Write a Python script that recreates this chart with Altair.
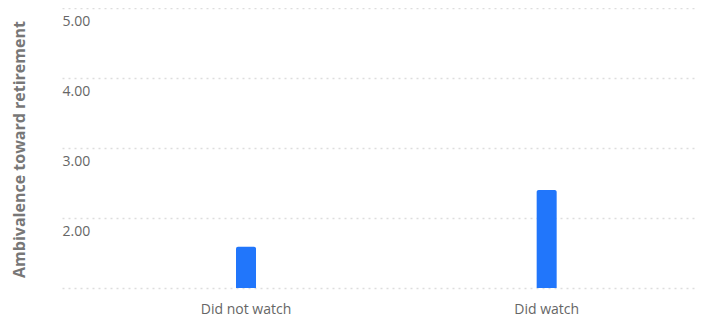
import altair as alt
import pandas as pd

categories = ["Did not watch", "Did watch"]
values = [1.59, 2.40]
y_ticks = [1, 2, 3, 4, 5]

df = pd.DataFrame({"group": categories, "score": values})

chart = alt.Chart(df).mark_bar(
    size=20, color="#2176fb", cornerRadiusTopLeft=2, cornerRadiusTopRight=2
).encode(
    x=alt.X(
        "group:N",
        sort=categories,
        scale=alt.Scale(paddingOuter=0.056, paddingInner=0.0, align=1),
        axis=alt.Axis(
            title=None, ticks=False, domain=False, labelAngle=0,
            labelFont="Open Sans", labelFontSize=14, labelColor="#666666",
            labelPadding=14, grid=False,
        ),
    ),
    y=alt.Y(
        "score:Q",
        scale=alt.Scale(domain=[1, 5], nice=False, zero=False),
        axis=alt.Axis(
            values=y_ticks,
            labelExpr="datum.value == 1 ? '' : format(datum.value, '.2f')",
            title="Ambivalence toward retirement",
            titleFont="Open Sans", titleFontSize=16, titleFontWeight="bold",
            titleColor="#777777", titleX=-43, titleY=141, titleBaseline="middle",
            titleAngle=270, titleAlign="center",
            ticks=False, tickSize=0, domain=False,
            labelAlign="left", labelBaseline="middle", labelPadding=0, labelOffset=13,
            labelFont="Open Sans", labelFontSize=14, labelColor="#666666",
            grid=True, gridDash=[2, 4], gridColor="#dddddd", gridWidth=1.5,
        ),
    ),
    y2=alt.Y2Datum(1),
).properties(
    width=635,
    height=280,
    autosize=alt.AutoSizeParams(type="none"),
    padding={"left": 54, "top": 0, "right": 5, "bottom": 28},
).configure_view(stroke=None)

chart.save("out.html", embed_options={"renderer": "svg", "actions": False})
